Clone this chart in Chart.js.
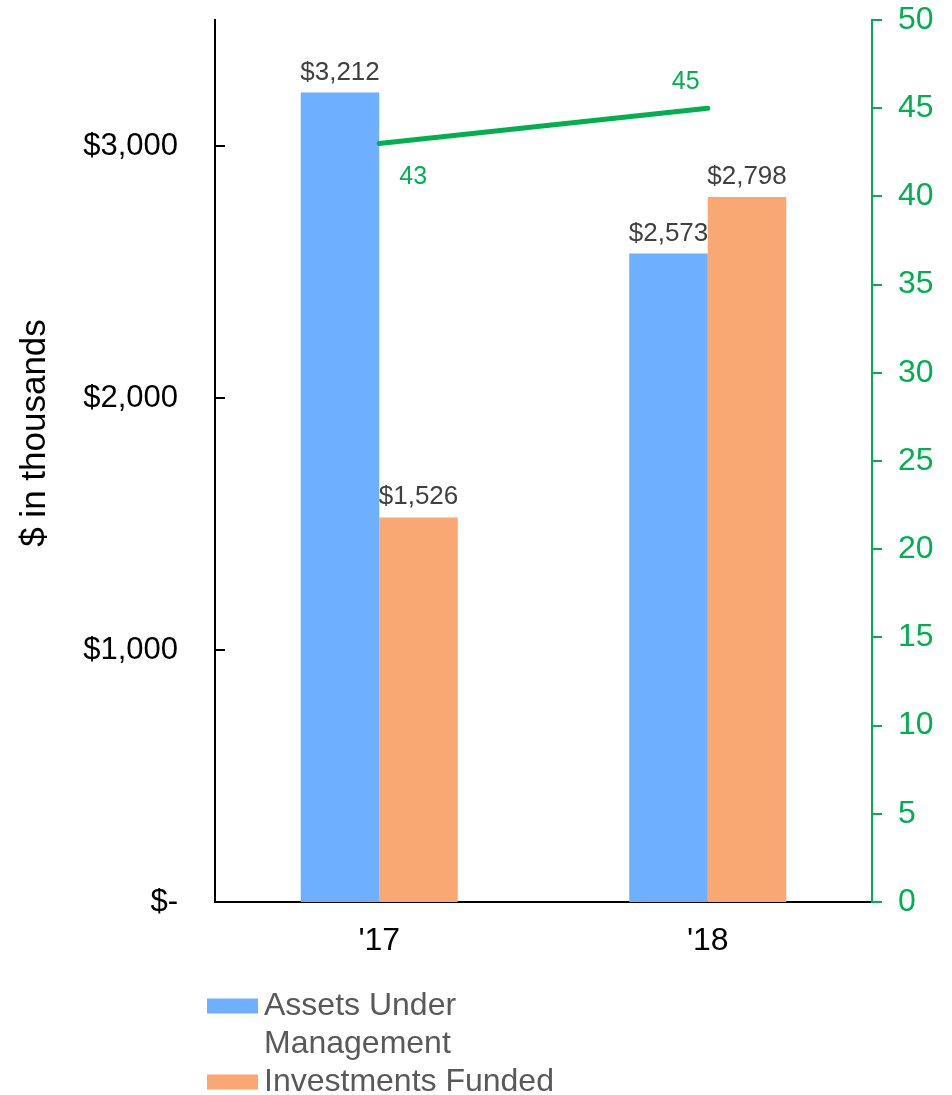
<!DOCTYPE html>
<html>
<head>
<meta charset="utf-8">
<script src="https://cdn.jsdelivr.net/npm/chart.js@4.4.1/dist/chart.umd.min.js"></script>
<style>
  html, body { margin: 0; padding: 0; background: #fff; }
  #wrap { width: 952px; height: 1095px; position: relative; }
</style>
</head>
<body>
<div id="wrap"><canvas id="myChart"></canvas></div>
<script>
const years = ["'17", "'18"];
const assetsUnderMgmt = [3212, 2573];
const investmentsFunded = [1526, 2798];
const lineValues = [43, 45];
const seriesNames = ["Assets Under Management", "Investments Funded"];
const dollarTicks = [0, 1000, 2000, 3000];

const FONT = "'Liberation Sans', Arial, Helvetica, sans-serif";
const BLUE = "rgb(110,175,255)";
const ORANGE = "rgb(249,167,115)";
const GREEN = "#00B050";

const money = v => (v === 0 ? "$-" : "$" + v.toLocaleString("en-US"));

// inward ticks, value labels, axis title, legend
const extras = {
  id: "extras",
  afterDatasetsDraw(chart) {
    const ctx = chart.ctx;
    const area = chart.chartArea;
    const y = chart.scales.y;
    ctx.save();

    ctx.strokeStyle = "#000";
    ctx.lineWidth = 2;
    y.ticks.forEach(t => {
      const py = y.getPixelForValue(t.value);
      ctx.beginPath();
      ctx.moveTo(area.left, py);
      ctx.lineTo(area.left + 10, py);
      ctx.stroke();
    });

    ctx.font = "26px " + FONT;
    ctx.fillStyle = "#404040";
    ctx.textAlign = "center";
    ctx.textBaseline = "alphabetic";
    [0, 1].forEach(di => {
      chart.getDatasetMeta(di).data.forEach((bar, i) => {
        ctx.fillText(money(chart.data.datasets[di].data[i]), bar.x, bar.y - 13);
      });
    });

    ctx.font = "25px " + FONT;
    ctx.fillStyle = GREEN;
    ctx.textBaseline = "middle";
    chart.getDatasetMeta(2).data.forEach((pt, i) => {
      const txt = String(lineValues[i]);
      if (i === 0) ctx.fillText(txt, pt.x + 34, pt.y + 34);
      else ctx.fillText(txt, pt.x - 22, pt.y - 26);
    });

    ctx.restore();
  },
  afterDraw(chart) {
    const ctx = chart.ctx;
    ctx.save();

    // y axis title
    ctx.translate(35, 433);
    ctx.rotate(-Math.PI / 2);
    ctx.font = "35px " + FONT;
    ctx.fillStyle = "#000";
    ctx.textAlign = "center";
    ctx.textBaseline = "middle";
    ctx.fillText("$ in thousands", 0, 0);
    ctx.setTransform(1, 0, 0, 1, 0, 0);

    // legend
    ctx.font = "32px " + FONT;
    ctx.textAlign = "left";
    ctx.textBaseline = "middle";
    const colors = [BLUE, ORANGE];
    let rowY = 1006;
    seriesNames.forEach((name, i) => {
      const words = name.split(" ");
      const lines = [];
      let cur = "";
      words.forEach(w => {
        const test = cur ? cur + " " + w : w;
        if (cur && ctx.measureText(test).width > 310) { lines.push(cur); cur = w; }
        else cur = test;
      });
      lines.push(cur);
      ctx.fillStyle = colors[i];
      ctx.fillRect(207, rowY - 7.5, 51, 15);
      ctx.fillStyle = "#595959";
      lines.forEach((ln, k) => ctx.fillText(ln, 264, rowY + k * 38));
      rowY += lines.length * 38;
    });

    ctx.restore();
  }
};

const data = {
  labels: years,
  datasets: [
    {
      type: "bar",
      label: seriesNames[0],
      data: assetsUnderMgmt,
      backgroundColor: BLUE,
      yAxisID: "y",
      order: 2
    },
    {
      type: "bar",
      label: seriesNames[1],
      data: investmentsFunded,
      backgroundColor: ORANGE,
      yAxisID: "y",
      order: 2
    },
    {
      type: "line",
      label: "",
      data: lineValues,
      borderColor: GREEN,
      borderWidth: 5,
      borderCapStyle: "round",
      pointRadius: 0,
      fill: false,
      tension: 0,
      yAxisID: "y1",
      order: 1
    }
  ]
};

const config = {
  type: "bar",
  data: data,
  options: {
    responsive: true,
    maintainAspectRatio: false,
    animation: false,
    categoryPercentage: 0.478,
    barPercentage: 1.0,
    layout: { padding: { top: 20, left: 0, right: 0, bottom: 0 } },
    plugins: {
      legend: { display: false },
      tooltip: { enabled: false }
    },
    scales: {
      x: {
        z: 1,
        grid: { display: false, drawTicks: false },
        border: { color: "#000", width: 2 },
        ticks: { color: "#000", font: { family: FONT, size: 32 }, padding: 20 },
        afterFit: s => { s.height = 193; }
      },
      y: {
        position: "left",
        min: 0,
        max: 3500,
        grid: { display: false, drawTicks: false },
        border: { color: "#000", width: 2 },
        ticks: {
          color: "#000",
          font: { family: FONT, size: 31 },
          padding: 37,
          callback: v => money(v)
        },
        afterBuildTicks: s => { s.ticks = dollarTicks.map(v => ({ value: v })); },
        afterFit: s => { s.width = 215; s.paddingTop = 0; s.paddingBottom = 0; }
      },
      y1: {
        position: "right",
        min: 0,
        max: 50,
        grid: { drawOnChartArea: false, color: GREEN, lineWidth: 2, tickLength: 10 },
        border: { color: GREEN, width: 2 },
        ticks: { stepSize: 5, color: GREEN, font: { family: FONT, size: 32 }, padding: 16 },
        afterFit: s => { s.width = 80; s.paddingTop = 0; s.paddingBottom = 0; }
      }
    }
  },
  plugins: [extras]
};

const myChart = new Chart(document.getElementById("myChart").getContext("2d"), config);
</script>
</body>
</html>
